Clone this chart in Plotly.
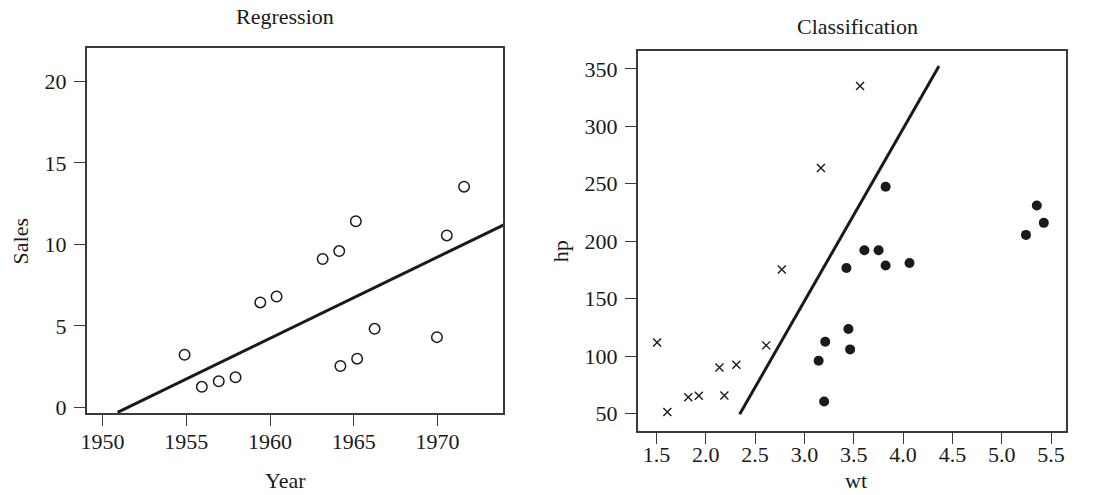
import plotly.graph_objects as go

# ---- Regression panel data ----
reg_year = [1954.9, 1955.93, 1956.94, 1957.94, 1959.42, 1960.39, 1963.14, 1964.13,
            1965.12, 1964.2, 1965.2, 1966.24, 1969.96, 1970.55, 1971.58]
reg_sales = [3.23, 1.26, 1.6, 1.85, 6.44, 6.8, 9.1, 9.59,
             11.42, 2.54, 2.99, 4.82, 4.31, 10.55, 13.54]
reg_fit_x = [1950.9, 1973.95]
reg_fit_y = [-0.31, 11.2]
reg_xticks = [1950, 1955, 1960, 1965, 1970]
reg_yticks = [0, 5, 10, 15, 20]

# ---- Classification panel data ----
cls_x_wt = [1.507, 1.611, 1.823, 1.93, 2.189, 2.139, 2.31, 2.613, 2.771, 3.167, 3.564]
cls_x_hp = [111.9, 51.2, 64.2, 65.4, 65.7, 90.1, 92.4, 109.3, 175.3, 263.7, 335.2]
cls_o_wt = [3.823, 5.355, 5.426, 5.245, 3.608, 3.752, 3.426, 3.823, 4.065, 3.446,
            3.211, 3.463, 3.144, 3.2]
cls_o_hp = [247.4, 231.1, 216.0, 205.5, 192.2, 192.2, 176.7, 178.8, 181.1, 123.5,
            112.5, 105.8, 95.9, 60.5]
cls_line_x = [2.344, 4.364]
cls_line_y = [49.4, 352.6]
cls_xticks = [1.5, 2.0, 2.5, 3.0, 3.5, 4.0, 4.5, 5.0, 5.5]
cls_xticklabels = ["1.5", "2.0", "2.5", "3.0", "3.5", "4.0", "4.5", "5.0", "5.5"]
cls_yticks = [50, 100, 150, 200, 250, 300, 350]

W, H = 1103, 495
FONT = "Liberation Serif, Times New Roman, serif"
INK = "#1a1a1a"
FRAME = "#3a3a3a"

fig = go.Figure()

fig.add_trace(go.Scatter(x=reg_fit_x, y=reg_fit_y, mode="lines",
                         line=dict(color=INK, width=3), xaxis="x", yaxis="y",
                         showlegend=False, hoverinfo="skip"))
fig.add_trace(go.Scatter(x=reg_year, y=reg_sales, mode="markers",
                         marker=dict(symbol="circle-open", size=10.5, color=INK,
                                     line=dict(width=1.5, color=INK)),
                         xaxis="x", yaxis="y", showlegend=False))

fig.add_trace(go.Scatter(x=cls_line_x, y=cls_line_y, mode="lines",
                         line=dict(color=INK, width=3), xaxis="x2", yaxis="y2",
                         showlegend=False, hoverinfo="skip"))
fig.add_trace(go.Scatter(x=cls_x_wt, y=cls_x_hp, mode="markers",
                         marker=dict(symbol="x-thin-open", size=8, color=INK,
                                     line=dict(width=1.4, color=INK)),
                         xaxis="x2", yaxis="y2", showlegend=False))
fig.add_trace(go.Scatter(x=cls_o_wt, y=cls_o_hp, mode="markers",
                         marker=dict(symbol="circle", size=10, color=INK,
                                     line=dict(width=0)),
                         xaxis="x2", yaxis="y2", showlegend=False))

def px(v):
    return v / W

def py(v):
    return 1 - v / H

axis_common = dict(showgrid=False, zeroline=False, showline=True, mirror=True,
                   linecolor=FRAME, linewidth=1.5, ticks="outside", ticklen=11,
                   tickwidth=1.2, tickcolor=FRAME,
                   tickfont=dict(family=FONT, size=22, color=INK))

fig.update_layout(
    width=W, height=H,
    margin=dict(l=0, r=0, t=0, b=0),
    paper_bgcolor="white", plot_bgcolor="white",
    xaxis=dict(domain=[px(81), px(500)], range=[1949.05, 1973.92],
               tickvals=reg_xticks, anchor="y", ticklabelstandoff=-3, **axis_common),
    yaxis=dict(domain=[py(419), py(49)], range=[-0.35, 22.03],
               tickvals=reg_yticks, anchor="x", ticklabelstandoff=3, **axis_common),
    xaxis2=dict(domain=[px(635), px(1066)], range=[1.309, 5.653],
                tickvals=cls_xticks, ticktext=cls_xticklabels, anchor="y2",
                ticklabelstandoff=-8, **axis_common),
    yaxis2=dict(domain=[py(437), py(52)], range=[34.9, 365.4],
                tickvals=cls_yticks, anchor="x2", ticklabelstandoff=3, **axis_common),
)

def label(text, x, y, angle=0, size=22):
    fig.add_annotation(text=text, x=px(x), y=py(y), xref="paper", yref="paper",
                       xanchor="center", yanchor="middle", showarrow=False,
                       textangle=angle, font=dict(family=FONT, size=size, color=INK))

label("Regression", 281, 17)
label("Classification", 856, 27)
label("Year", 281, 487)
label("wt", 855, 487)
label("Sales", 15, 245, angle=-90)
label("hp", 557, 255, angle=-90)

fig.write_html(
    "out.html",
    config={"displayModeBar": False},
    post_script="document.body.style.margin='0';document.body.style.padding='0';"
                "document.body.style.overflow='hidden';"
                "document.documentElement.style.overflow='hidden';",
)
